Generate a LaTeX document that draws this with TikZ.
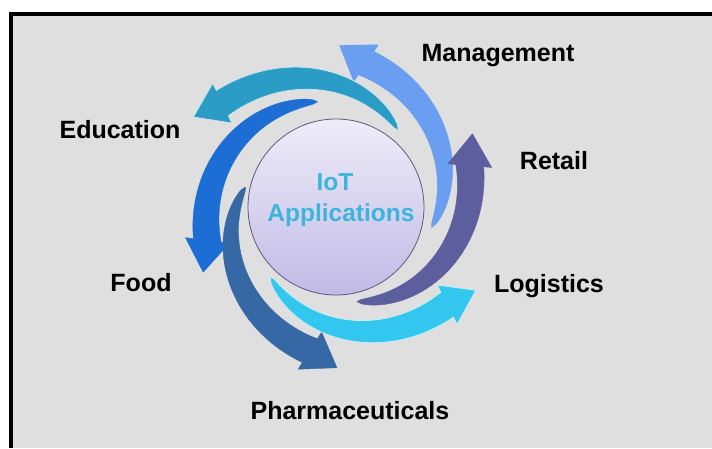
\documentclass[tikz,border=0pt]{standalone}
\usepackage{fontspec}
\setmainfont{Liberation Sans}
\usetikzlibrary{calc}
\definecolor{bggray}{HTML}{DFDFDF}
\definecolor{cmgmt}{HTML}{6A9EF0}
\definecolor{cedu}{HTML}{2A9CC6}
\definecolor{cfood}{HTML}{1D6ED4}
\definecolor{cpharma}{HTML}{3668A5}
\definecolor{clogi}{HTML}{33C6EF}
\definecolor{cretail}{HTML}{5D5E9D}
\definecolor{ctop}{HTML}{EEECF8}
\definecolor{cbot}{HTML}{C2BAE6}
\definecolor{cring}{HTML}{5E5A7E}
\definecolor{ciot}{HTML}{3CB4DC}
% #1 tail angle, #2 head angle, #3 tail radius, #4 head radius, #5 style
\newcommand{\iotarrow}[5]{%
  \pgfmathsetmacro\spn{#2-#1}%
  \pgfmathsetmacro\drr{#4-#3}%
  \filldraw[#5] plot[domain=0:1, samples=40, variable=\t]
     ({(#3+\drr*\t)*cos(#1+\spn*\t)+14*sqrt(\t)*cos(#1+\spn*\t-22*\t)},
      {(#3+\drr*\t)*sin(#1+\spn*\t)+14*sqrt(\t)*sin(#1+\spn*\t-22*\t)})
     -- ($(#2:#4)+(#2-22:22)$)
     -- ($(#2:#4)+(#2+68:32)$)
     -- ($(#2:#4)+(#2+158:22)$)
     -- plot[domain=0:1, samples=40, variable=\t]
     ({(#3+\drr*(1-\t))*cos(#1+\spn*(1-\t))-14*sqrt(1-\t)*cos(#1+\spn*(1-\t)-22*(1-\t))},
      {(#3+\drr*(1-\t))*sin(#1+\spn*(1-\t))-14*sqrt(1-\t)*sin(#1+\spn*(1-\t)-22*(1-\t))})
     -- cycle;}
\tikzset{
  lab/.style={anchor=base, inner sep=0pt, font=\fontsize{25}{30}\selectfont\bfseries, text=black},
  iot/.style={anchor=base, inner sep=0pt, font=\fontsize{24.5}{29}\selectfont\bfseries, text=ciot},
  arr/.style={fill=#1, draw=#1, line width=0.4pt, line join=round},
  arrw/.style={fill=#1, draw=white!75!#1, line width=0.7pt, line join=round},
}
\begin{document}
\begin{tikzpicture}[x=1pt,y=1pt]
\useasboundingbox (0,0) rectangle (712,448);
\fill[white] (0,0) rectangle (712,448);
\fill[bggray] (9,0) rectangle (712,436);
\fill[black] (9,0) rectangle (13,436);
\fill[black] (9,432) rectangle (712,436);
\begin{scope}[shift={(336,241)}]
  \iotarrow{-12}{78.2}{98}{147}{arr=cmgmt}
  \iotarrow{51}{137.6}{99}{154}{arrw=cedu}
  \iotarrow{100}{194.6}{107}{133}{arr=cfood}
  \iotarrow{167.6}{259.7}{93}{146}{arr=cpharma}
  \iotarrow{226.7}{318.7}{96}{148}{arrw=clogi}
  \iotarrow{282.5}{377.2}{97}{140}{arr=cretail}
  \node[circle, minimum size=176pt, inner sep=0pt, draw=cring, line width=0.8pt,
        top color=ctop, bottom color=cbot] (hub) at (0,0) {};
\end{scope}
\node[iot] (t1) at (335,258) {IoT};
\node[iot] (t2) at (341,227) {Applications};
\node[lab] (mgmt) at (498,386) {Management};
\node[lab] (edu) at (120,309) {Education};
\node[lab] (retail) at (554,279) {Retail};
\node[lab] (food) at (141,157) {Food};
\node[lab] (logi) at (549,156) {Logistics};
\node[lab] (pharma) at (350,29) {Pharmaceuticals};
\end{tikzpicture}
\end{document}
